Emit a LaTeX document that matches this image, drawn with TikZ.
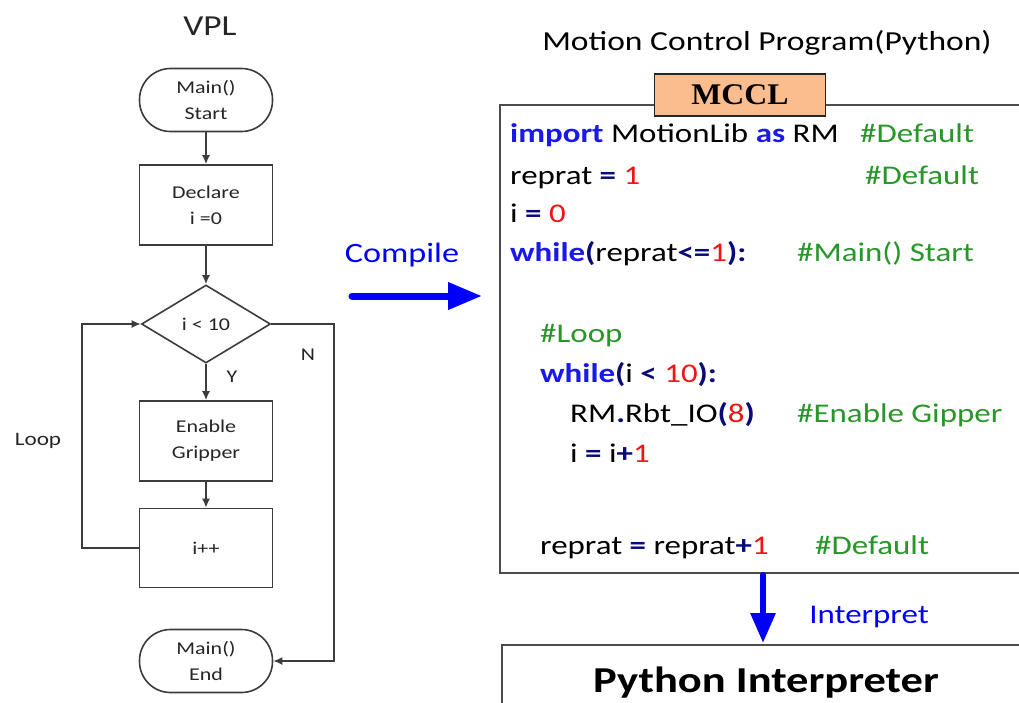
\documentclass[tikz,border=0pt]{standalone}
\usepackage{fontspec}
\setmainfont{Carlito}[FakeStretch=1.22]
\newfontfamily\serifbf{Liberation Serif Bold}[FakeStretch=1.06]
\usetikzlibrary{arrows.meta,shapes.geometric}

\definecolor{kwblue}{RGB}{25,25,235}
\definecolor{opnavy}{RGB}{10,10,120}
\definecolor{numred}{RGB}{240,20,20}
\definecolor{cmgreen}{RGB}{40,150,40}
\definecolor{peach}{RGB}{251,188,142}
\definecolor{flowgray}{RGB}{60,60,60}
\definecolor{arrblue}{RGB}{0,0,250}

\newcommand\kw[1]{\textcolor{kwblue}{\textbf{#1}}}
\newcommand\op[1]{\textcolor{opnavy}{\textbf{#1}}}
\newcommand\nm[1]{\textcolor{numred}{#1}}
\newcommand\cm[1]{\textcolor{cmgreen}{#1}}
\newcommand\flowfont{\fontsize{18}{26}\selectfont}
\newcommand\codefont{\fontsize{27}{32}\selectfont}

\begin{document}
\begin{tikzpicture}[x=1pt,y=-1pt,
    flow/.style={draw=flowgray,line width=1.6pt,-{Latex[length=9pt,width=8pt]}},
    box/.style={draw=flowgray,line width=1.6pt,minimum width=133pt,minimum height=80pt,align=center,font=\flowfont,text=black!85},
    term/.style={box,rounded corners=31pt,minimum height=63pt},
    test/.style={draw=flowgray,line width=1.6pt,diamond,aspect=1.65,inner sep=0pt,minimum width=129pt,minimum height=78pt,font=\flowfont,text=black!85},
    lbl/.style={font=\flowfont,text=black!85},
    code/.style={anchor=base west,inner sep=0pt,font=\codefont},
    bigarrow/.style={draw=arrblue,line width=7pt,line cap=round,-{Triangle[length=34pt,width=26pt]}}]
    \fill[white] (0,0) rectangle (1019,702);
    \useasboundingbox (0,0) rectangle (1019,702);

    % VPL flow chart
    \node[lbl,font=\fontsize{29}{34}\selectfont,anchor=base] (vpl) at (210,35) {VPL};
    \node[term] (start) at (206,100) {Main()\\Start};
    \node[box] (decl) at (206,205) {Declare\\i =0};
    \node[test] (cond) at (206,324) {i < 10};
    \node[box] (grip) at (206,441) {Enable\\Gripper};
    \node[box,minimum height=79pt] (inc) at (206,548) {i++};
    \node[term] (end) at (206,661) {Main()\\End};

    \draw[flow] (start) -- (decl);
    \draw[flow] (decl) -- (cond);
    \draw[flow] (cond) -- (grip);
    \draw[flow] (grip) -- (inc);
    \coordinate (loopx) at (82,548);
    \coordinate (nx) at (334,324);
    \draw[flow] (inc.west) -- (loopx) |- (cond.west);
    \draw[flow] (cond.east) -- (nx) |- (end.east);
    \node[lbl] (ylbl) at (232,377) {Y};
    \node[lbl] (nlbl) at (308,355) {N};
    \node[lbl,font=\fontsize{19}{24}\selectfont] (looplbl) at (38,441) {Loop};

    % compile step
    \node[font=\fontsize{28}{32}\selectfont,text=arrblue,anchor=base] (cmp) at (402,262) {Compile};
    \coordinate (cmpA) at (352,296);
    \coordinate (cmpB) at (482,296);
    \draw[bigarrow] (cmpA) -- (cmpB);

    % python program
    \node[anchor=base,font=\fontsize{27.5}{32}\selectfont] (title) at (767,50) {Motion Control Program(Python)};
    \draw[black!70,line width=2.2pt] (1019,105) -- (500,105) -- (500,573) -- (1019,573);
    \node[draw=black!85,line width=1.6pt,fill=peach,minimum width=171pt,minimum height=42pt,inner sep=0pt,font=\serifbf\fontsize{30}{34}\selectfont] (mccl) at (740,95) {MCCL};

    \node[code] (l1) at (510,142) {\kw{import} MotionLib \kw{as} RM};
    \node[code] (c1) at (860,142) {\cm{\#Default}};
    \node[code] (l2) at (510,184) {reprat \op{=} \nm{1}};
    \node[code] (c2) at (865,184) {\cm{\#Default}};
    \node[code] (l3) at (510,222) {i \op{=} \nm{0}};
    \node[code] (l4) at (510,261) {\kw{while}\op{(}reprat\op{<=}\nm{1}\op{):}};
    \node[code] (c4) at (797,261) {\cm{\#Main() Start}};
    \node[code] (l5) at (540,342) {\cm{\#Loop}};
    \node[code] (l6) at (540,382) {\kw{while}\op{(}i \op{<} \nm{10}\op{):}};
    \node[code] (l7) at (570,422) {RM\op{.}Rbt\_IO\op{(}\nm{8}\op{)}};
    \node[code] (c7) at (797,422) {\cm{\#Enable Gipper}};
    \node[code] (l8) at (570,462) {i \op{=} i\op{+}\nm{1}};
    \node[code] (l9) at (540,554) {reprat \op{=} reprat\op{+}\nm{1}};
    \node[code] (c9) at (815,554) {\cm{\#Default}};

    % interpreter
    \draw[black!70,line width=2.2pt] (1019,645) -- (502,645) -- (502,710);
    \node[anchor=base,font=\bfseries\fontsize{36.5}{40}\selectfont] (interp) at (766,692) {Python Interpreter};
    \coordinate (codeS) at (763,575);
    \coordinate (interpN) at (763,643);
    \draw[bigarrow,line width=6pt,-{Triangle[length=30pt,width=24pt]}] (codeS) -- (interpN);
    \node[anchor=base,text=arrblue,font=\fontsize{27}{32}\selectfont] (intlbl) at (869,623) {Interpret};
\end{tikzpicture}
\end{document}
